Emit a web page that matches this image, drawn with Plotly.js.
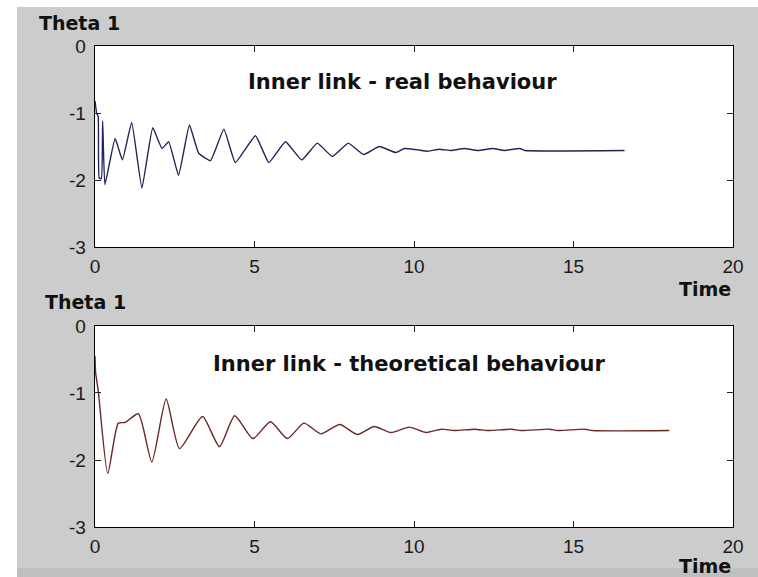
<!DOCTYPE html>
<html>
<head>
<meta charset="utf-8">
<script src="https://cdn.plot.ly/plotly-3.0.1.min.js"></script>
<style>
  html, body { margin: 0; padding: 0; background: #ffffff; width: 758px; height: 577px; overflow: hidden; }
  #bg { position: absolute; left: 17px; top: 7px; width: 741px; height: 561px; background: #cccccc; }
  #strip { position: absolute; left: 17px; top: 568px; width: 741px; height: 9px; background: #bfbfbf; }
  #chart { position: absolute; left: 17px; top: 7px; width: 741px; height: 570px; }
</style>
</head>
<body>
<div id="bg"></div>
<div id="strip"></div>
<div id="chart"></div>
<script>
// Inner link - real behaviour (Theta 1 vs Time)
const timeReal = [0, 0.05, 0.1, 0.13, 0.2, 0.24, 0.31, 0.63, 0.86, 1.15, 1.47, 1.81, 2.10, 2.31, 2.62, 2.96, 3.25, 3.62, 4.04, 4.40, 5.03, 5.45, 5.97, 6.48, 6.97, 7.44, 7.94, 8.42, 8.91, 9.43, 9.70, 10.12, 10.43, 10.8, 11.16, 11.58, 12.0, 12.47, 12.84, 13.31, 13.47, 16.6];
const thetaReal = [-0.82, -1.0, -1.05, -1.97, -1.98, -1.12, -2.07, -1.38, -1.70, -1.14, -2.12, -1.22, -1.53, -1.43, -1.93, -1.18, -1.60, -1.71, -1.24, -1.74, -1.34, -1.74, -1.43, -1.70, -1.45, -1.65, -1.45, -1.62, -1.50, -1.59, -1.53, -1.55, -1.57, -1.54, -1.56, -1.53, -1.56, -1.53, -1.56, -1.53, -1.56, -1.56];

// Inner link - theoretical behaviour (Theta 1 vs Time)
const timeTheo = [0, 0.02, 0.1, 0.4, 0.73, 0.94, 1.36, 1.78, 2.23, 2.65, 3.37, 3.90, 4.38, 4.95, 5.50, 6.03, 6.55, 7.08, 7.67, 8.23, 8.75, 9.28, 9.85, 10.38, 10.85, 11.27, 11.9, 12.32, 13.05, 13.36, 14.25, 14.5, 15.35, 15.6, 18.0];
const thetaTheo = [-0.45, -0.7, -0.96, -2.2, -1.45, -1.44, -1.31, -2.03, -1.09, -1.83, -1.35, -1.80, -1.34, -1.68, -1.43, -1.68, -1.45, -1.61, -1.47, -1.62, -1.50, -1.59, -1.51, -1.59, -1.54, -1.56, -1.54, -1.56, -1.54, -1.56, -1.54, -1.56, -1.54, -1.56, -1.56];

const xTicks = [0, 5, 10, 15, 20];
const yTicks = [-3, -2, -1, 0];
const panelTitles = ["Inner link - real behaviour", "Inner link - theoretical behaviour"];
const yLabel = "Theta 1";
const xLabel = "Time";

const tickFont = {family: "Liberation Sans, Arial, sans-serif", size: 19, color: "#1a1a1a"};
const boldFont = (s) => ({family: "DejaVu Sans, sans-serif", size: s, color: "#111111", weight: "bold"});

function axisX(anchor) {
  return {
    range: [0, 20], tickvals: xTicks, ticktext: xTicks.map(String),
    ticks: "inside", ticklen: 6, tickcolor: "#222", mirror: "allticks",
    showline: true, linecolor: "#000", linewidth: 1.3,
    showgrid: false, zeroline: false, anchor: anchor, tickfont: tickFont,
    ticklabelstandoff: 2, fixedrange: true
  };
}
function axisY(anchor, domain) {
  return {
    range: [-3, 0], tickvals: yTicks, ticktext: yTicks.map(String), domain: domain,
    ticks: "inside", ticklen: 6, tickcolor: "#222", mirror: "allticks",
    showline: true, linecolor: "#000", linewidth: 1.3,
    showgrid: false, zeroline: false, anchor: anchor, tickfont: tickFont,
    ticklabelstandoff: 4, fixedrange: true
  };
}

const data = [
  {x: timeReal, y: thetaReal, xaxis: "x", yaxis: "y", mode: "lines",
   line: {color: "rgb(35,35,90)", width: 1.4, shape: "spline", smoothing: 0.35}, hoverinfo: "skip"},
  {x: timeTheo, y: thetaTheo, xaxis: "x2", yaxis: "y2", mode: "lines",
   line: {color: "rgb(105,40,40)", width: 1.4, shape: "spline", smoothing: 0.6}, hoverinfo: "skip"}
];

// plot area: 78..716 horizontally, 39..520 vertically inside the 741x570 chart
const layout = {
  width: 741, height: 570,
  margin: {l: 78, r: 25, t: 39, b: 50},
  paper_bgcolor: "rgba(0,0,0,0)", plot_bgcolor: "#ffffff",
  showlegend: false,
  xaxis: axisX("y"),
  yaxis: axisY("x", [0.5821, 1]),
  xaxis2: axisX("y2"),
  yaxis2: axisY("x2", [0, 0.4179]),
  annotations: [
    {text: panelTitles[0], xref: "x", yref: "y", x: 9.64, y: -0.54, showarrow: false,
     xanchor: "center", yanchor: "middle", font: boldFont(21)},
    {text: panelTitles[1], xref: "x2", yref: "y2", x: 9.86, y: -0.57, showarrow: false,
     xanchor: "center", yanchor: "middle", font: boldFont(21)},
    {text: yLabel, xref: "paper", yref: "paper", x: -0.0909, y: 1.0478, showarrow: false,
     xanchor: "left", yanchor: "middle", font: boldFont(19)},
    {text: yLabel, xref: "paper", yref: "paper", x: -0.0815, y: 0.4688, showarrow: false,
     xanchor: "left", yanchor: "middle", font: boldFont(19)},
    {text: xLabel, xref: "paper", yref: "paper", x: 1.0, y: 0.4958, showarrow: false,
     xanchor: "right", yanchor: "middle", font: boldFont(19)},
    {text: xLabel, xref: "paper", yref: "paper", x: 1.0, y: -0.0821, showarrow: false,
     xanchor: "right", yanchor: "middle", font: boldFont(19)}
  ]
};

Plotly.newPlot("chart", data, layout, {displayModeBar: false, staticPlot: true});
</script>
</body>
</html>
